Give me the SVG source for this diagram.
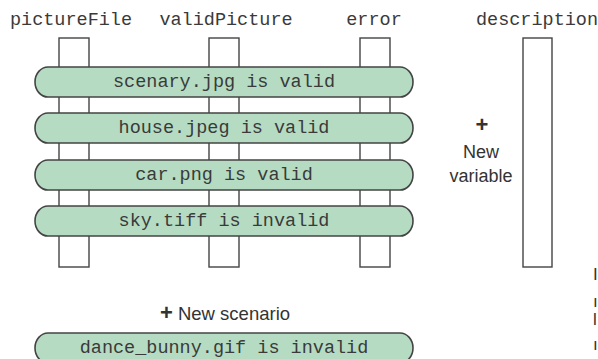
<svg xmlns="http://www.w3.org/2000/svg" width="598" height="359" viewBox="0 0 598 359">
<style>
.hdr{font-family:"Liberation Mono",monospace;font-size:18.5px;fill:#3a3a3a;text-anchor:middle}
.mono{font-family:"Liberation Mono",monospace;font-size:18.5px;fill:#3a3a3a;text-anchor:middle}
.col{fill:#fff;stroke:#444;stroke-width:1.4}
.pill{fill:#b5dcc2;stroke:#444;stroke-width:1.6}
.sans{font-family:"Liberation Sans",Arial,sans-serif;fill:#333;text-anchor:middle}
.plus{font-weight:bold;font-size:22px}
</style>
<rect width="598" height="359" fill="#fff"/>
<g id="col-pictureFile">
<text class="hdr" x="71" y="25">pictureFile</text>
<rect class="col" x="59" y="38" width="30" height="229"/>
</g>
<g id="col-validPicture">
<text class="hdr" x="226" y="25">validPicture</text>
<rect class="col" x="209" y="38" width="30" height="229"/>
</g>
<g id="col-error">
<text class="hdr" x="374" y="25">error</text>
<rect class="col" x="360" y="38" width="30" height="229"/>
</g>
<g id="col-description">
<text class="hdr" x="537" y="25">description</text>
<rect class="col" x="523" y="38" width="29" height="229"/>
</g>
<g id="connectors"></g>
<g id="scenario-1">
<rect class="pill" x="35" y="67" width="378" height="30" rx="13" ry="15"/>
<text class="mono" x="224" y="87">scenary.jpg is valid</text>
</g>
<g id="scenario-2">
<rect class="pill" x="35" y="113" width="378" height="30" rx="13" ry="15"/>
<text class="mono" x="224" y="133">house.jpeg is valid</text>
</g>
<g id="scenario-3">
<rect class="pill" x="35" y="160" width="378" height="30" rx="13" ry="15"/>
<text class="mono" x="224" y="180">car.png is valid</text>
</g>
<g id="scenario-4">
<rect class="pill" x="35" y="206" width="378" height="30" rx="13" ry="15"/>
<text class="mono" x="224" y="226">sky.tiff is invalid</text>
</g>
<g id="new-variable">
<text class="sans plus" x="482" y="132">+</text>
<text class="sans" x="481" y="158" font-size="18">New</text>
<text class="sans" x="481" y="182" font-size="18">variable</text>
</g>
<g id="new-scenario-label">
<text class="sans" x="225" y="320" font-size="18.5"><tspan class="plus">+</tspan> New scenario</text>
</g>
<g id="scenario-5">
<rect class="pill" x="35" y="333" width="378" height="30" rx="13" ry="15"/>
<text class="mono" x="224" y="353">dance_bunny.gif is invalid</text>
</g>
<g id="clipped-text" font-family="Liberation Sans,Arial,sans-serif" font-size="17" fill="#333">
<text x="593" y="280">I</text>
<text x="593" y="307">ı</text>
<text x="593" y="325">l</text>
<text x="593" y="350">ı</text>
</g>
</svg>
